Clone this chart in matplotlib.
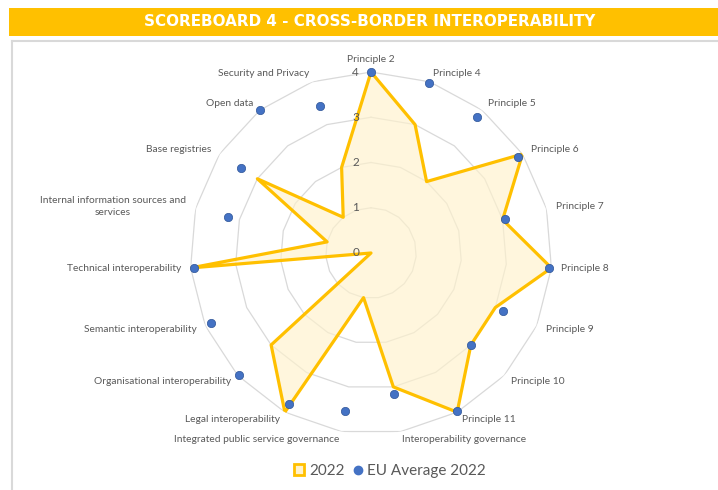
import numpy as np
import matplotlib
matplotlib.use('Agg')
import matplotlib.pyplot as plt
from matplotlib.patches import Rectangle, Patch
from matplotlib.lines import Line2D

# data, clockwise from the top
categories = ['Principle 2', 'Principle 4', 'Principle 5', 'Principle 6', 'Principle 7',
              'Principle 8', 'Principle 9', 'Principle 10', 'Principle 11',
              'Interoperability governance', 'Integrated public service governance',
              'Legal interoperability', 'Organisational interoperability',
              'Semantic interoperability', 'Technical interoperability',
              'Internal information sources and\nservices', 'Base registries',
              'Open data', 'Security and Privacy']
score_2022 = [4, 3, 2, 4, 3, 4, 3, 3, 4, 3, 1, 4, 3, 0, 4, 1, 3, 1, 2]
eu_avg_2022 = [4.0, 3.97, 3.82, 3.89, 3.05, 3.94, 3.18, 3.0, 3.98, 3.15,
               3.55, 3.8, 3.97, 3.86, 3.93, 3.25, 3.43, 4.0, 3.44]
rings = [0, 1, 2, 3, 4]

gold = '#FFC000'
blue = '#4472C4'
grey_txt = '#595959'
plt.rcParams['font.family'] = ['Lato', 'DejaVu Sans']

W, H = 718, 490
fig = plt.figure(figsize=(W / 100, H / 100), dpi=100)

# title bar + chart frame
fig.patches.append(Rectangle((9 / W, 1 - 36 / H), 1, 28 / H, transform=fig.transFigure,
                             facecolor=gold, edgecolor='none', zorder=0))
fig.text(370 / W, 1 - 22 / H, 'SCOREBOARD 4 - CROSS-BORDER INTEROPERABILITY',
         color='white', fontsize=10.9, fontweight='bold', ha='center', va='center',
         family='DejaVu Sans')
fig.add_artist(Line2D([12 / W, 12 / W], [0, 1 - 41 / H], transform=fig.transFigure,
                      color='#D9D9D9', lw=1.5))
fig.add_artist(Line2D([12 / W, 1], [1 - 41 / H, 1 - 41 / H], transform=fig.transFigure,
                      color='#D9D9D9', lw=1.5))

# radar axes
cx, cy, R = 371, 253, 181
ax = fig.add_axes([(cx - R) / W, 1 - (cy + R) / H, 2 * R / W, 2 * R / H], projection='polar')
ax.set_theta_zero_location('N')
ax.set_theta_direction(-1)
ax.set_ylim(0, 4)
ax.grid(False)
ax.set_xticks([])
ax.set_yticks([])
ax.spines['polar'].set_visible(False)
ax.patch.set_alpha(0)

n = len(categories)
theta = np.arange(n) * 2 * np.pi / n
theta_c = np.append(theta, theta[0])

for r in rings[1:]:
    ax.plot(theta_c, [r] * (n + 1), color='#D9D9D9', lw=0.9, zorder=1)

vals = np.append(score_2022, score_2022[0])
ax.fill(theta_c, vals, color='#FFF2CC', alpha=0.65, zorder=2, lw=0)
ax.plot(theta_c, vals, color=gold, lw=2.3, zorder=3)
ax.scatter(theta, eu_avg_2022, s=36, color=blue, edgecolor='#2F5597', lw=0.5, zorder=4,
           clip_on=False)

for r in rings:
    ax.annotate(str(r), xy=(0, r), xytext=(-11, 0), textcoords='offset points',
                ha='center', va='center', fontsize=8.5, color=grey_txt, zorder=5)

for t, lab in zip(theta, categories):
    s, c = np.sin(t), np.cos(t)
    dx, dy = 7 * s, 6 * c
    if abs(s) < 0.1:
        ha = 'center'
    elif s > 0:
        ha = 'left'
    else:
        ha = 'right'
    va = 'bottom' if c > 0.95 else 'center'
    ax.annotate(lab, xy=(t, 4), xytext=(dx, dy), textcoords='offset points',
                ha=ha, va=va, fontsize=7.4, color=grey_txt, multialignment='center',
                linespacing=1.45, annotation_clip=False)

handles = [Patch(facecolor='#FFF2CC', edgecolor=gold, lw=2),
           Line2D([], [], marker='o', ls='none', color=blue, markersize=6)]
fig.legend(handles, ['2022', 'EU Average 2022'], loc='center', bbox_to_anchor=(390 / W, 1 - 471 / H),
           ncol=2, frameon=False, fontsize=11, handlelength=0.7, handleheight=0.7,
           handletextpad=0.3, columnspacing=0.5, labelcolor=grey_txt)

fig.savefig('out.png', dpi=100)
